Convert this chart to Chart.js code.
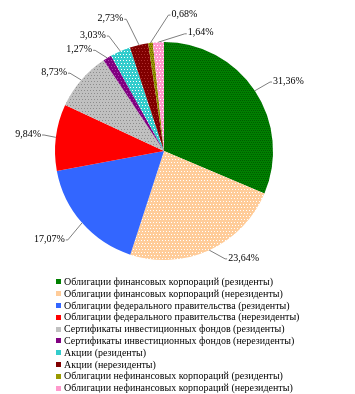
<!DOCTYPE html>
<html>
<head>
<meta charset="utf-8">
<script src="https://cdn.jsdelivr.net/npm/chart.js@4.4.1/dist/chart.umd.min.js"></script>
<style>
  html, body { margin: 0; padding: 0; background: #fff; }
  #wrap { position: relative; width: 355px; height: 394px; overflow: hidden; }
  #c { position: absolute; left: 0; top: 0; }
  #legend { position: absolute; left: 56px; top: 276px; font-family: "Liberation Serif", "Times New Roman", serif; font-size: 10px; color: #000; }
  .item { height: 11.8px; line-height: 11.8px; white-space: nowrap; display: flex; align-items: center; }
  .box { width: 5px; height: 5px; margin-right: 3px; flex: none; }
</style>
</head>
<body>
<div id="wrap">
  <canvas id="c" width="355" height="394"></canvas>
  <div id="legend"></div>
</div>
<script>
// ---- data ----
const categories = [
  "Облигации финансовых корпораций (резиденты)",
  "Облигации финансовых корпораций (нерезиденты)",
  "Облигации федерального правительства (резиденты)",
  "Облигации федерального правительства (нерезиденты)",
  "Сертификаты инвестиционных фондов (резиденты)",
  "Сертификаты инвестиционных фондов (нерезиденты)",
  "Акции (резиденты)",
  "Акции (нерезиденты)",
  "Облигации нефинансовых корпораций (резиденты)",
  "Облигации нефинансовых корпораций (нерезиденты)"
];
const shares = [31.36, 23.64, 17.07, 9.84, 8.73, 1.27, 3.03, 2.73, 0.68, 1.64];
const valueLabels = ["31,36%", "23,64%", "17,07%", "9,84%", "8,73%", "1,27%", "3,03%", "2,73%", "0,68%", "1,64%"];

// ---- styles ----
const baseColors = ["#008000", "#FFCC99", "#3366FF", "#FF0000", "#C0C0C0", "#800080", "#33CCCC", "#800000", "#999900", "#FF99CC"];
const dotColors  = ["#005A00", "#FFFFFF", null, null, "#8C8C8C", "#B040B0", "#FFFFFF", "#B03030", "#666600", "#FFFFFF"];
const dotStep    = [2, 3, 0, 0, 3, 3, 3, 3, 2, 3];
// label placement relative to each slice (angle shift in degrees, distance beyond the rim in px)
const labelAngleShift = [0.5, -5, -1.5, 0.4, -1, -3, -2, -2.7, 9, 13];
const labelRadiusExtra = [17.5, 15, 22, 12, 13, 13, 18.5, 28, 27, 10];

function makePattern(base, dot, step) {
  if (!dot || !step) return base;
  const cv = document.createElement('canvas');
  cv.width = step; cv.height = step * 2;
  const g = cv.getContext('2d');
  g.fillStyle = base; g.fillRect(0, 0, cv.width, cv.height);
  g.fillStyle = dot;
  g.fillRect(0, 0, 1, 1);
  g.fillRect(Math.floor(step / 2), step, 1, 1);
  return g.createPattern(cv, 'repeat');
}
const fills = baseColors.map((c, i) => makePattern(c, dotColors[i], dotStep[i]));

// ---- legend (HTML) ----
const legendEl = document.getElementById('legend');
categories.forEach((name, i) => {
  const row = document.createElement('div');
  row.className = 'item';
  const b = document.createElement('span');
  b.className = 'box';
  b.style.background = baseColors[i];
  const t = document.createElement('span');
  t.textContent = name;
  row.appendChild(b); row.appendChild(t);
  legendEl.appendChild(row);
});

// ---- outside labels with leader lines ----
const outsideLabels = {
  id: 'outsideLabels',
  afterDatasetsDraw(chart) {
    const ctx = chart.ctx;
    const meta = chart.getDatasetMeta(0);
    ctx.save();
    ctx.font = '10px "Liberation Serif", "Times New Roman", serif';
    ctx.textBaseline = 'middle';
    meta.data.forEach((arc, i) => {
      const p = arc.getProps(['x', 'y', 'startAngle', 'endAngle', 'outerRadius'], true);
      const mid = (p.startAngle + p.endAngle) / 2;
      const ex = p.x + Math.cos(mid) * p.outerRadius;
      const ey = p.y + Math.sin(mid) * p.outerRadius;
      const la = mid + labelAngleShift[i] * Math.PI / 180;
      const lr = p.outerRadius + labelRadiusExtra[i];
      const lx = p.x + Math.cos(la) * lr;
      const ly = p.y + Math.sin(la) * lr;
      const right = lx >= p.x;
      const hx = lx + (right ? 2 : -2);
      ctx.strokeStyle = '#7f7f7f';
      ctx.lineWidth = 1;
      ctx.beginPath();
      ctx.moveTo(ex, ey);
      ctx.lineTo(lx, ly);
      ctx.lineTo(hx, ly);
      ctx.stroke();
      ctx.fillStyle = '#000';
      ctx.textAlign = right ? 'left' : 'right';
      ctx.fillText(valueLabels[i], hx + (right ? 1 : -1), ly - 1);
    });
    ctx.restore();
  }
};

new Chart(document.getElementById('c'), {
  type: 'pie',
  data: {
    labels: categories,
    datasets: [{
      data: shares,
      backgroundColor: fills,
      borderWidth: 0
    }]
  },
  options: {
    responsive: false,
    animation: false,
    layout: { padding: { top: 42, left: 55, right: 82, bottom: 134 } },
    plugins: {
      legend: { display: false },
      tooltip: { enabled: false }
    }
  },
  plugins: [outsideLabels]
});
</script>
</body>
</html>
